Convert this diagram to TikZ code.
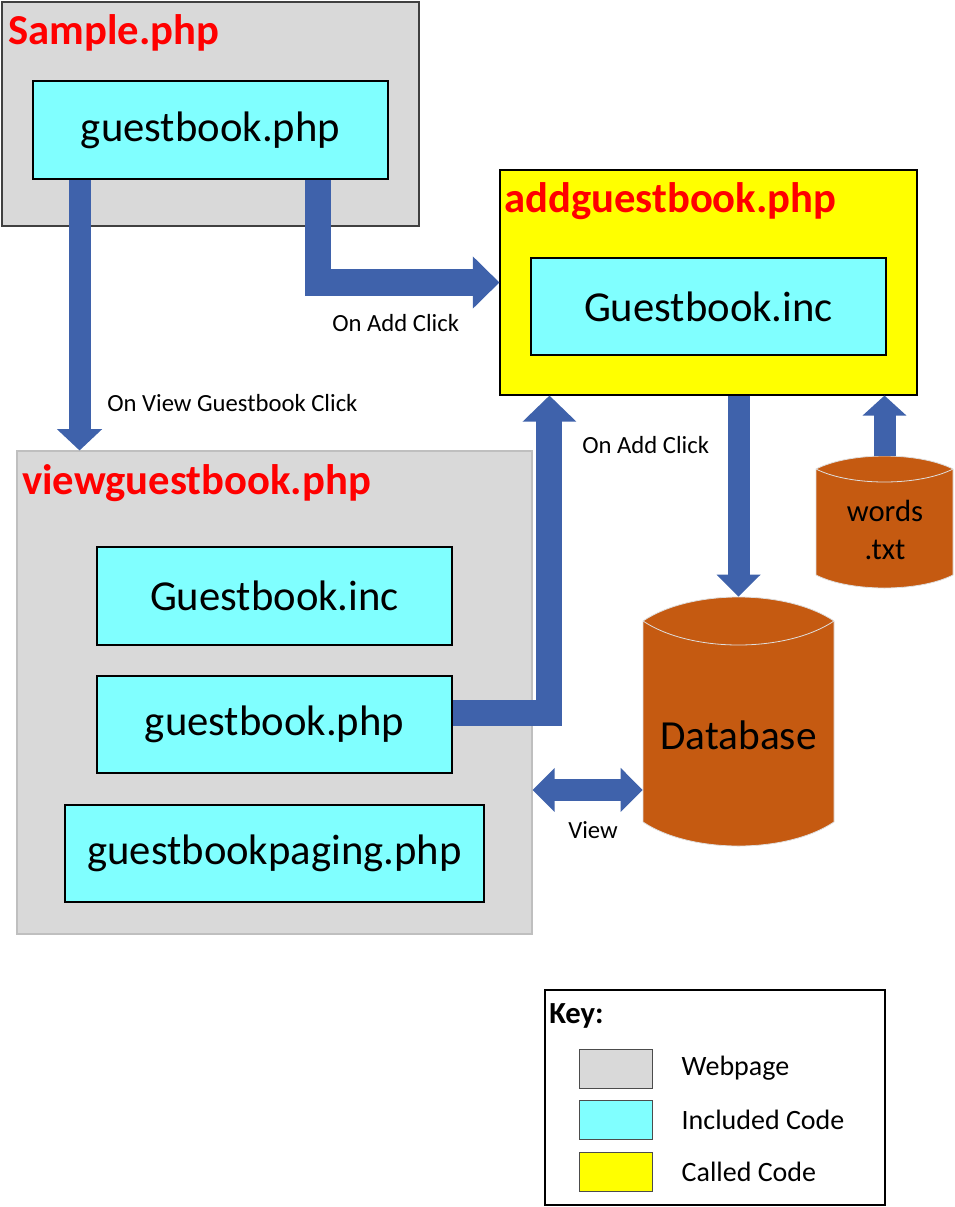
\documentclass[tikz,border=0pt]{standalone}
\usepackage{fontspec}
\setmainfont{Carlito}
\usetikzlibrary{arrows.meta,positioning,calc}

\definecolor{pagegray}{RGB}{217,217,217}
\definecolor{inclcyan}{RGB}{128,255,255}
\definecolor{calledyellow}{RGB}{255,255,0}
\definecolor{flowblue}{RGB}{63,98,171}
\definecolor{storeorange}{RGB}{197,90,17}

% data store drum: left, right, top, bottom, rim depth
\newcommand\drawstore[5]{%
  \filldraw[fill=storeorange, draw=white!75!gray, line width=0.6pt]
    ({#1},{#3+#5}) .. controls ({#1+0.25*(#2-#1)},{#3-#5/3}) and ({#2-0.25*(#2-#1)},{#3-#5/3}) .. ({#2},{#3+#5})
    -- ({#2},{#4-#5}) .. controls ({#2-0.25*(#2-#1)},{#4+#5/3}) and ({#1+0.25*(#2-#1)},{#4+#5/3}) .. ({#1},{#4-#5})
    -- cycle;
  \draw[white!75!gray, line width=0.6pt]
    ({#1},{#3+#5}) .. controls ({#1+0.25*(#2-#1)},{#3+7*#5/3}) and ({#2-0.25*(#2-#1)},{#3+7*#5/3}) .. ({#2},{#3+#5});
}

\tikzset{
  page/.style={draw=black!75, line width=0.8pt, fill=pagegray},
  pagetitle/.style={anchor=base west, text=red, font=\fontsize{32}{38}\selectfont\bfseries, inner sep=0pt},
  incbox/.style={draw, line width=2.2pt, fill=inclcyan, font=\fontsize{32}{38}\selectfont},
  store/.style={inner sep=0pt},
  flow/.style={draw=flowblue, line width=#1, line join=miter},
  note/.style={font=\fontsize{18.5}{22}\selectfont, inner sep=0pt, anchor=west},
  swatch/.style={draw=black!70, line width=0.6pt, minimum width=54.75pt, minimum height=29.25pt, inner sep=0pt},
  keytext/.style={anchor=west, font=\fontsize{21}{25}\selectfont, inner sep=0pt},
}

\begin{document}
\begin{tikzpicture}[x=0.75pt, y=-0.75pt]
\useasboundingbox (0,0) rectangle (955,1207);

% Sample.php
\node[page, minimum width=312.75pt, minimum height=168pt] (samplepage) at (210.5,114) {};
\node[pagetitle] (sampletitle) at (8,44) {Sample.php};
\node[incbox, minimum width=266.25pt, minimum height=73.5pt] (gbtop) at (210.5,130) {guestbook.php};

% addguestbook.php
\node[page, fill=calledyellow, draw=black, minimum width=312.75pt, minimum height=168.75pt] (addpage) at (708.5,282.5) {};
\node[pagetitle] (addtitle) at (504,212) {addguestbook.php};
\node[incbox, minimum width=266.25pt, minimum height=72.75pt] (incadd) at (708.5,306.5) {Guestbook.inc};

% viewguestbook.php
\node[page, draw=black!25, minimum width=386.25pt, minimum height=362.25pt] (viewpage) at (274.5,692.5) {};
\node[pagetitle] (viewtitle) at (22,494) {viewguestbook.php};
\node[incbox, minimum width=266.25pt, minimum height=73.5pt] (incview) at (274.5,596) {Guestbook.inc};
\node[incbox, minimum width=266.25pt, minimum height=72.75pt] (gbview) at (274.5,724.5) {guestbook.php};
\node[incbox, minimum width=314.25pt, minimum height=72.75pt] (paging) at (274.5,853.5) {guestbookpaging.php};

% data stores
\drawstore{643}{834}{597}{846}{24}
\node[store, minimum width=143.25pt, minimum height=186.75pt] (db) at (738.5,721.5) {};
\node[font=\fontsize{31}{36}\selectfont] (dbname) at (738.5,735) {Database};
\drawstore{816}{953}{456}{588}{13}
\node[store, minimum width=102.75pt, minimum height=99pt] (words) at (884.5,522) {};
\node[align=center, font=\fontsize{23}{29}\selectfont] (wordsname) at (885,530) {words\\.txt};

% flows
\coordinate (c1) at ([xshift=36pt]gbtop.south west);
\draw[flow=16.5pt, -{Triangle[length=16pt, width=33pt]}] (c1) -- (c1 |- viewpage.north);
\coordinate (c2) at ([xshift=-53.6pt]gbtop.south east);
\draw[flow=20pt, -{Triangle[length=20pt, width=38pt]}] (c2) |- (addpage.west);
\coordinate (c3) at ([yshift=8.6pt]gbview.east);
\coordinate (c4) at ([xshift=37.5pt]addpage.south west);
\draw[flow=19.5pt, -{Triangle[length=19.5pt, width=39pt]}] (c3) -| (c4);
\draw[flow=16.5pt, -{Triangle[length=16.5pt, width=32pt]}] (addpage.south -| db.north) -- (db.north);
\draw[flow=16.5pt, -{Triangle[length=15pt, width=32pt]}] (words.north) -- (words.north |- addpage.south);
\coordinate (c5) at ([yshift=-73.1pt]viewpage.east);
\draw[flow=16.5pt, {Triangle[length=16.5pt, width=32pt]}-{Triangle[length=16.5pt, width=32pt]}] (c5) -- (c5 -| db.west);

% labels
\node[note] (viewlbl) at (107,403) {On View Guestbook Click};
\node[note] (addlbl) at (332,323) {On Add Click};
\node[note] (addbacklbl) at (582,445) {On Add Click};
\node[note] (dblbl) at (568,830) {View};

% key
\node[draw, line width=2.2pt, minimum width=255pt, minimum height=161.25pt] (keybox) at (715,1097.5) {};
\node[anchor=base west, font=\fontsize{23}{27}\selectfont\bfseries, inner sep=0pt] (keytitle) at (549,1023) {Key:};
\node[swatch, fill=pagegray] (swpage) at (615.5,1068.5) {};
\node[swatch, fill=inclcyan, below=9pt of swpage] (swincl) {};
\node[swatch, fill=calledyellow, below=9pt of swincl] (swcall) {};
\node[keytext, right=21.75pt of swpage] (kpage) {Webpage};
\node[keytext, right=21.75pt of swincl] (kincl) {Included Code};
\node[keytext, right=21.75pt of swcall] (kcall) {Called Code};

\end{tikzpicture}
\end{document}
